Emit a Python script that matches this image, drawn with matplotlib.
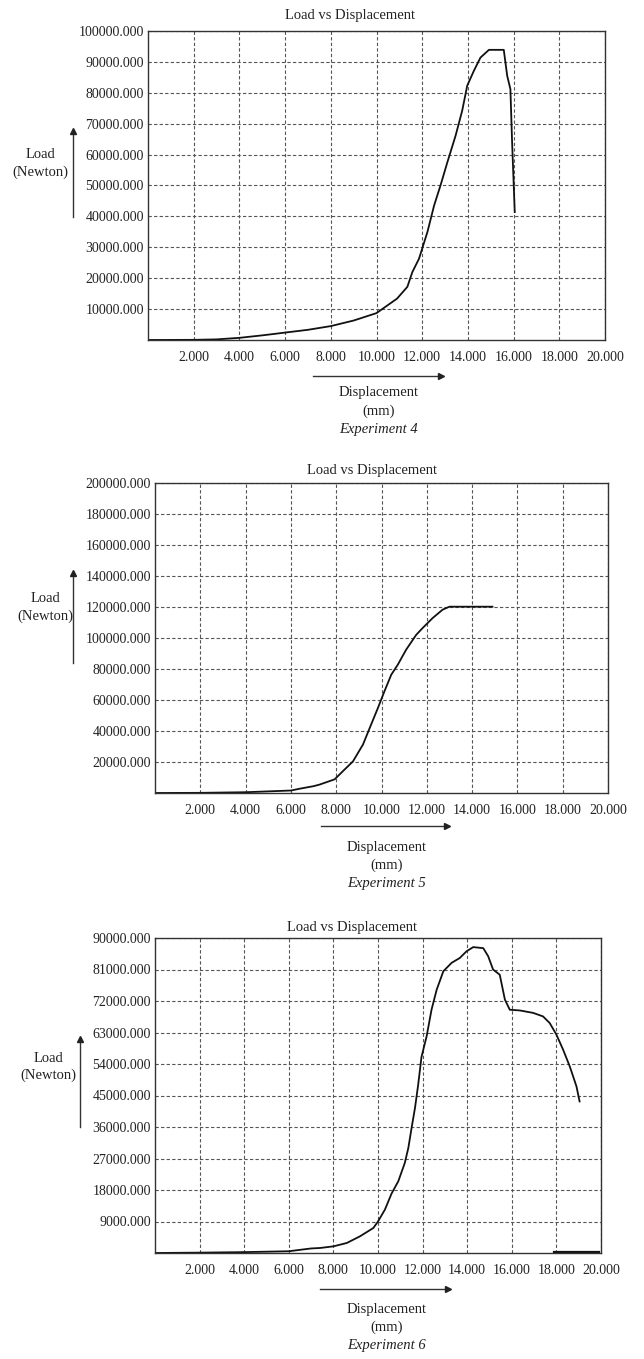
import matplotlib.pyplot as plt
from matplotlib.ticker import FormatStrFormatter

plt.rcParams['font.family'] = ['Liberation Serif', 'DejaVu Serif']

W, H = 644, 1359

# Experiment 4: displacement (mm) and load (N)
disp4 = [0.0, 2.0, 3.0, 4.0, 5.0, 6.0, 7.0, 8.0, 9.0, 10.0, 10.9, 11.35, 11.57,
         11.86, 12.23, 12.52, 12.8, 13.1, 13.46, 13.75, 13.97, 14.26, 14.55,
         14.92, 15.57, 15.72, 15.86, 15.93, 16.05]
load4 = [0, 50, 200, 700, 1500, 2400, 3300, 4500, 6300, 8700, 13400, 17200, 22000,
         26300, 35000, 43500, 50000, 57500, 66100, 74200, 82300, 87100, 91400,
         93900, 93900, 85500, 81200, 65000, 41400]

# Experiment 5
disp5 = [0.0, 2.0, 4.0, 6.0, 6.4, 7.0, 7.26, 7.93, 8.29, 8.74, 9.18, 9.54, 9.84,
         10.13, 10.43, 10.72, 11.09, 11.53, 11.82, 12.26, 12.7, 13.0, 14.9]
load5 = [0, 100, 500, 1600, 2800, 4400, 5400, 8800, 14000, 20400, 31200, 44100, 54800,
         65600, 76300, 82800, 92500, 102000, 106500, 112900, 118300, 120200, 120200]

# Experiment 6
disp6 = [0.0, 2.0, 4.0, 6.0, 7.0, 7.4, 8.0, 8.6, 9.19, 9.79, 10.0, 10.31, 10.61,
         10.91, 11.2, 11.36, 11.5, 11.66, 11.8, 11.95, 12.18, 12.4, 12.63, 12.93,
         13.3, 13.67, 13.97, 14.27, 14.72, 14.94, 15.16, 15.46, 15.69, 15.91,
         16.36, 16.96, 17.4, 17.7, 18.0, 18.3, 18.6, 18.9, 19.04]
load6 = [0, 100, 250, 500, 1300, 1430, 1900, 2860, 4760, 7140, 9000, 12400, 17000,
         20500, 25700, 30000, 35500, 41500, 48000, 56000, 61900, 69500, 75200, 80500,
         82900, 84300, 86200, 87400, 87100, 84800, 81000, 79500, 72400, 69500,
         69300, 68600, 67600, 65700, 62400, 58100, 53300, 47600, 43300]
tail6_x = [17.9, 19.9]
tail6_y = [350, 350]

x_ticks = [2, 4, 6, 8, 10, 12, 14, 16, 18, 20]
y_ticks4 = [10000 * i for i in range(1, 11)]
y_ticks5 = [20000 * i for i in range(1, 11)]
y_ticks6 = [9000 * i for i in range(1, 11)]

fig = plt.figure(figsize=(W / 100, H / 100), dpi=100)
fig.patch.set_facecolor('white')


def fx(x):
    return x / W


def fy(y):
    return 1 - y / H


def make_axes(left, right, top, bottom, yticks):
    ax = fig.add_axes([fx(left), fy(bottom), (right - left) / W, (bottom - top) / H])
    ax.set_xlim(0, 20)
    ax.set_ylim(0, yticks[-1])
    ax.set_xticks(x_ticks)
    ax.set_yticks(yticks)
    ax.xaxis.set_major_formatter(FormatStrFormatter('%.3f'))
    ax.yaxis.set_major_formatter(FormatStrFormatter('%.3f'))
    ax.tick_params(length=0, labelsize=10, colors='#222')
    ax.tick_params(axis='x', pad=8)
    ax.tick_params(axis='y', pad=3)
    ax.grid(True, linestyle=(0, (3, 2)), color='#555', linewidth=0.8)
    for s in ax.spines.values():
        s.set_color('#333')
        s.set_linewidth(1.0)
    return ax


def side_text(ax_cx, title_cx, title_y, ylab_x, ylab_y, arr_x, arr_y0, arr_y1,
              xarr_x0, xarr_x1, xarr_y, xlab_y, exp_name):
    fig.text(fx(title_cx), fy(title_y), 'Load vs Displacement', ha='center', va='center',
             fontsize=10.5, color='#222')
    fig.text(fx(ylab_x), fy(ylab_y), 'Load', ha='center', va='center', fontsize=10.5, color='#222')
    fig.text(fx(ylab_x), fy(ylab_y + 17), '(Newton)', ha='center', va='center',
             fontsize=10.5, color='#222')
    fig.add_artist(plt.Line2D([fx(arr_x)] * 2, [fy(arr_y0), fy(arr_y1 + 6)],
                              color='#333', linewidth=1.0))
    fig.add_artist(plt.Line2D([fx(arr_x)], [fy(arr_y1 + 3)], marker='^', markersize=4,
                              color='#222', linestyle='none'))
    fig.add_artist(plt.Line2D([fx(xarr_x0), fx(xarr_x1 - 6)], [fy(xarr_y)] * 2,
                              color='#333', linewidth=1.0))
    fig.add_artist(plt.Line2D([fx(xarr_x1 - 3)], [fy(xarr_y)], marker='>', markersize=4,
                              color='#222', linestyle='none'))
    fig.text(fx(ax_cx), fy(xlab_y), 'Displacement', ha='center', va='center',
             fontsize=10.5, color='#222')
    fig.text(fx(ax_cx), fy(xlab_y + 18), '(mm)', ha='center', va='center',
             fontsize=10.5, color='#222')
    fig.text(fx(ax_cx), fy(xlab_y + 37), exp_name, ha='center', va='center',
             fontsize=10.5, style='italic', color='#222')


# Experiment 4 chart
ax1 = make_axes(148, 605, 31, 340, y_ticks4)
ax1.plot(disp4, load4, color='#111', linewidth=1.3)
side_text(379, 350, 15, 40, 155, 73, 217, 128, 313, 444, 376, 393, 'Experiment 4')

# Experiment 5 chart
ax2 = make_axes(155, 608, 483, 793, y_ticks5)
ax2.plot(disp5, load5, color='#111', linewidth=1.3)
side_text(387, 372, 470, 45, 599, 73, 663, 570, 321, 450, 826, 847, 'Experiment 5')

# Experiment 6 chart
ax3 = make_axes(155, 601, 938, 1253, y_ticks6)
ax3.plot(disp6, load6, color='#111', linewidth=1.3)
ax3.plot(tail6_x, tail6_y, color='#111', linewidth=1.6)
side_text(387, 352, 927, 48, 1058, 80, 1127, 1036, 320, 451, 1289, 1309, 'Experiment 6')

fig.savefig('out.png', dpi=100)
